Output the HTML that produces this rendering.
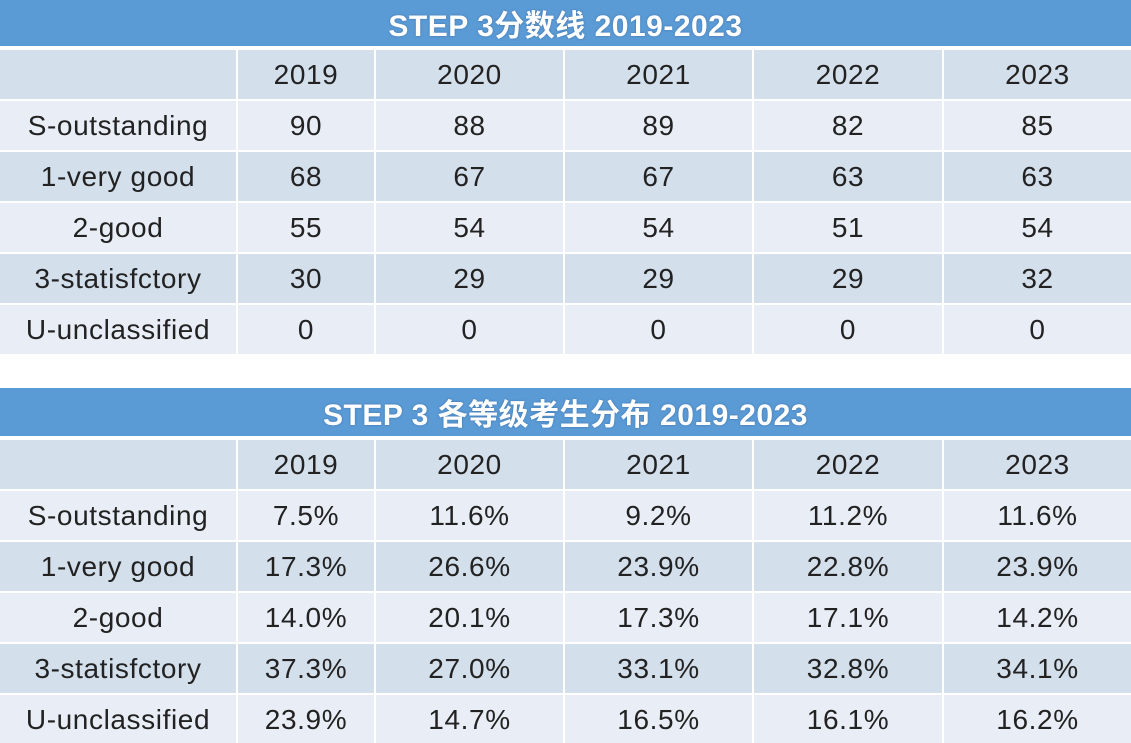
<!DOCTYPE html>
<html><head><meta charset="utf-8">
<style>
html,body{margin:0;padding:0;background:#fff;}
#root{position:relative;width:1131px;height:743px;overflow:hidden;font-family:"Liberation Sans","Noto Sans CJK SC",sans-serif;}
.title{position:absolute;left:0;width:1131px;background:#5b9bd5;color:#fff;font-weight:bold;font-size:30px;letter-spacing:0.5px;text-align:center;display:flex;align-items:center;justify-content:center;text-shadow:0 0 2px rgba(40,80,140,.6);}
.cell{position:absolute;display:flex;align-items:center;justify-content:center;font-size:28px;letter-spacing:0.6px;color:#222;}
.dark{background:#d4dfec;}
.light{background:#e9eef6;}
</style></head>
<body>
<div id="root">
<div class="title" style="top:0;height:46px">STEP 3分数线 2019-2023</div>
<div class="title" style="top:388px;height:48px">STEP 3 各等级考生分布 2019-2023</div>
</div>
<script>
const years = ["2019","2020","2021","2022","2023"];
const grades = ["S-outstanding","1-very good","2-good","3-statisfctory","U-unclassified"];
const scores = [[90,88,89,82,85],[68,67,67,63,63],[55,54,54,51,54],[30,29,29,29,32],[0,0,0,0,0]];
const dist = [["7.5%","11.6%","9.2%","11.2%","11.6%"],["17.3%","26.6%","23.9%","22.8%","23.9%"],["14.0%","20.1%","17.3%","17.1%","14.2%"],["37.3%","27.0%","33.1%","32.8%","34.1%"],["23.9%","14.7%","16.5%","16.1%","16.2%"]];
const root = document.getElementById('root');
const colX = [0,237,375,564,753,943,1131];
function cell(x0,x1,y,h,txt,cls,name){
  const d=document.createElement('div');
  d.className='cell '+cls;
  d.style.left=x0+'px';d.style.width=(x1-x0)+'px';d.style.top=y+'px';d.style.height=h+'px';
  d.textContent=txt;
  
  
  root.appendChild(d);
}
function table(top,vals,prefix){
  const rowH=49, pitch=51;
  for(let r=0;r<6;r++){
    const y=top+r*pitch;
    const cls=(r%2===0)?'dark':'light';
    for(let c=0;c<6;c++){
      const x0=colX[c]+(c>0?1:0), x1=colX[c+1]-(c<5?1:0);
      let txt='';
      if(r===0){txt=c===0?'':years[c-1];}
      else{txt=c===0?grades[r-1]:String(vals[r-1][c-1]);}
      cell(x0,x1,y,rowH,txt,cls,prefix+'-cell-r'+r+'-c'+c);
    }
  }
}
table(50,scores,'score');
table(440,dist,'dist');
</script>
</body></html>
